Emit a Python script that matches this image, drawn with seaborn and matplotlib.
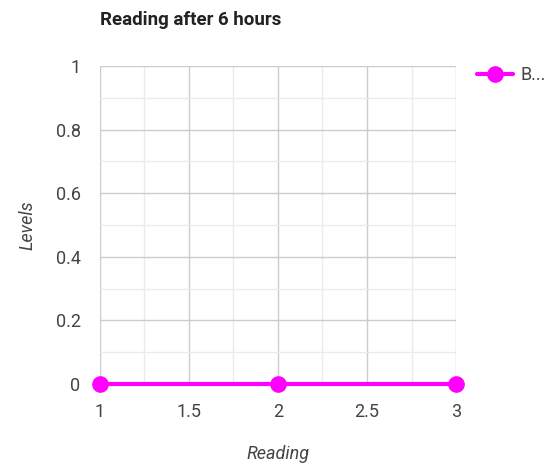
import numpy as np
import pandas as pd
import matplotlib
matplotlib.use("Agg")
import matplotlib.pyplot as plt
import seaborn as sns
from matplotlib.ticker import MultipleLocator
from matplotlib.lines import Line2D

readings = [1, 2, 3]
levels = [0, 0, 0]
series_name = "B..."

df = pd.DataFrame({"Reading": readings, "Levels": levels, "series": series_name})

sns.set_style("white")
plt.rcParams["font.family"] = ["Roboto", "DejaVu Sans"]

fig = plt.figure(figsize=(5.53, 4.68), dpi=100)
ax = fig.add_axes([0.1808, 0.1795, 0.6438, 0.6795])

sns.lineplot(data=df, x="Reading", y="Levels", hue="series", palette=["#ff00ff"],
             marker="o", markersize=12, linewidth=3, markeredgewidth=0,
             clip_on=False, zorder=5, ax=ax, legend=False)

ax.set_xlim(1, 3)
ax.set_ylim(0, 1)
ax.xaxis.set_minor_locator(MultipleLocator(0.25))
ax.yaxis.set_minor_locator(MultipleLocator(0.1))
ax.set_xticks([1, 1.5, 2, 2.5, 3], ["1", "1.5", "2", "2.5", "3"])
ax.set_yticks([0, 0.2, 0.4, 0.6, 0.8, 1], ["0", "0.2", "0.4", "0.6", "0.8", "1"])
ax.grid(True, which="major", color="#cccccc", linewidth=1)
ax.grid(True, which="minor", color="#ebebeb", linewidth=1)
ax.set_axisbelow(True)
for s in ax.spines.values():
    s.set_visible(False)
ax.tick_params(which="both", length=0, labelsize=13, labelcolor="#444444")
ax.tick_params(axis="y", pad=14)
ax.tick_params(axis="x", pad=14)

ax.set_xlabel("Reading", fontsize=13, style="italic", color="#444444", labelpad=17)
ax.set_ylabel("Levels", fontsize=13, style="italic", color="#444444", labelpad=14)

fig.text(100 / 553, 1 - 20 / 468, "Reading after 6 hours", fontsize=13.5,
         fontweight="bold", color="#222222", va="center", ha="left")

# legend
h = Line2D([0], [0], color="#ff00ff", linewidth=3, marker="o", markersize=12,
           markeredgewidth=0)
fig.legend([h], [series_name], loc="center left",
           bbox_to_anchor=(477 / 553, 1 - 75 / 468), frameon=False,
           borderpad=0, borderaxespad=0,
           handlelength=2.0, handletextpad=0.4, fontsize=13,
           labelcolor="#444444")

fig.savefig("out.png", dpi=100)
